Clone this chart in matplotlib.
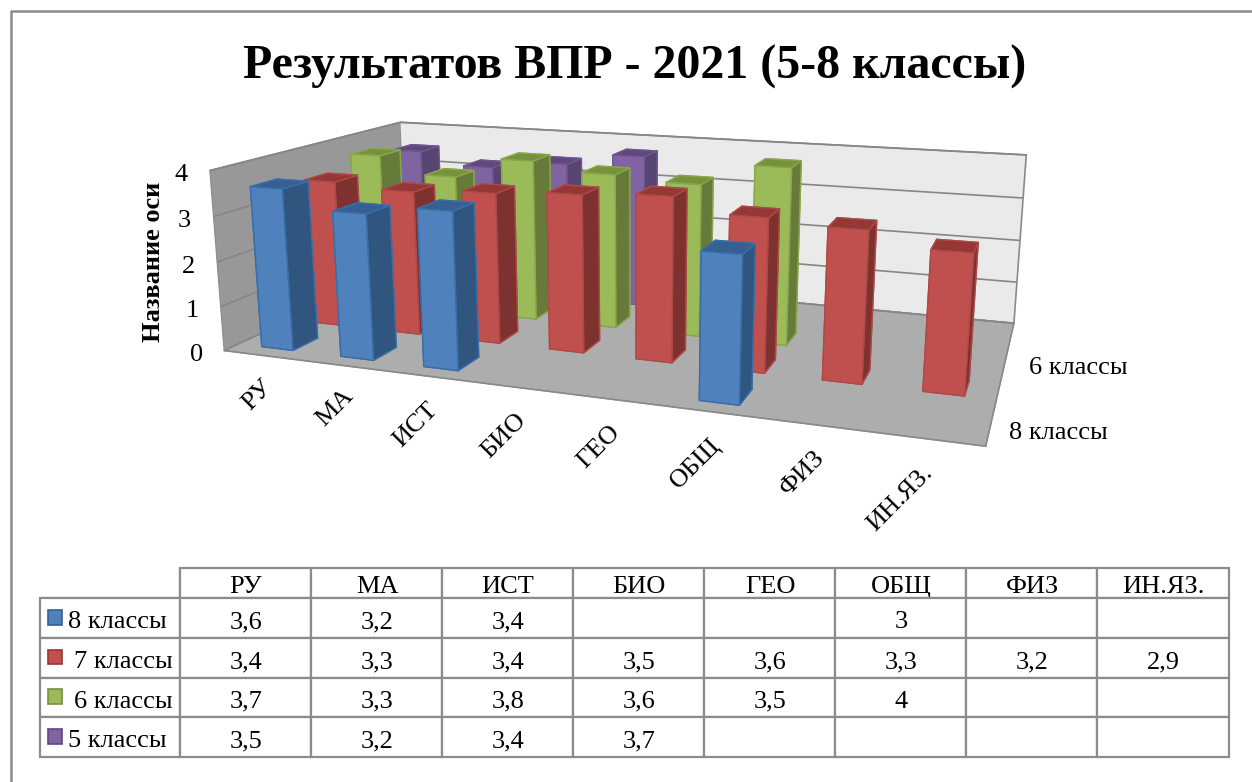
import numpy as np, matplotlib
matplotlib.use('Agg')
import matplotlib.pyplot as plt
from matplotlib.patches import Rectangle
from matplotlib.lines import Line2D
from matplotlib.transforms import Affine2D

plt.rcParams['font.family'] = ['Liberation Serif', 'DejaVu Serif']

W, H = 1252, 782
subjects = ['РУ', 'МА', 'ИСТ', 'БИО', 'ГЕО', 'ОБЩ', 'ФИЗ', 'ИН.ЯЗ.']
series_names = ['8 классы', '7 классы', '6 классы', '5 классы']
grade8 = [3.6, 3.2, 3.4, None, None, 3.0, None, None]
grade7 = [3.4, 3.3, 3.4, 3.5, 3.6, 3.3, 3.2, 2.9]
grade6 = [3.7, 3.3, 3.8, 3.6, 3.5, 4.0, None, None]
grade5 = [3.5, 3.2, 3.4, 3.7, None, None, None, None]
all_series = [grade8, grade7, grade6, grade5]

fig = plt.figure(figsize=(W/100, H/100), dpi=100, facecolor='white')
ax = fig.add_axes([0, 0, 1, 1], projection='3d', computed_zorder=False)
ax.set_xlim(0, 8, view_margin=0)
ax.set_ylim(0, 4, view_margin=0)
ax.set_zlim(0, 4, view_margin=0)
ax.view_init(elev=13.5568, azim=-70.2673)
ax.set_proj_type('persp', focal_length=0.2923)
ax.set_box_aspect((4.044, 1.9989, 1))
s, tx, ty = 4338.58, 632.76, 531.11
vl = ax.viewLim
ax.set_position([(s*vl.x0+tx)/W, (s*vl.y0+ty)/H, s*vl.width/W, s*vl.height/H])
ax.patch.set_alpha(0)

faces = ['#4F81BD', '#C0504D', '#9BBB59', '#8064A2']
sides = ['#30557F', '#7D3230', '#667B3A', '#574470']
tops = ['#376092', '#953735', '#76923C', '#5F497A']
edges = ['#3A6DA8', '#AD4A47', '#88A64C', '#70568F']
bw, bd = 0.40, 0.48
order = sorted(((r, c) for r in range(4) for c in range(8)), key=lambda t: (-t[0], t[1]))
for z, (r, c) in enumerate(order):
    v = all_series[r][c]
    if v is None:
        continue
    cols = [sides[r], tops[r], faces[r], sides[r], sides[r], sides[r]]
    ax.bar3d(c+.5-bw/2, r+.5-bd/2, 0, bw, bd, v, color=cols, shade=False,
             edgecolor=edges[r], linewidth=1, zorder=z+5)

ax.xaxis.pane.set_facecolor('#989898')
ax.yaxis.pane.set_facecolor('#EAEAEA')
ax.zaxis.pane.set_facecolor('#ADADAD')
for a_ in (ax.xaxis, ax.yaxis, ax.zaxis):
    a_.pane.set_alpha(1)
    a_.pane.set_edgecolor('#8A8A8A')
    a_.pane.set_linewidth(1.2)
    a_.line.set_color('#8A8A8A')
    a_._axinfo['tick']['inward_factor'] = 0
    a_._axinfo['tick']['outward_factor'] = 0
ax.xaxis._axinfo['grid'].update(color=(0, 0, 0, 0))
ax.yaxis._axinfo['grid'].update(color=(0, 0, 0, 0))
ax.zaxis._axinfo['grid'].update(color='#868686', linewidth=1.2)
ax.set_xticks(np.arange(8)+.5, subjects, rotation=45, ha='right', va='center',
              rotation_mode='anchor', fontsize=19)
ax.set_yticks([.5, 2.5], [series_names[0], series_names[2]], ha='left', va='bottom', fontsize=19)
ax.set_zticks(range(5), [str(i) for i in range(5)], va='center', fontsize=19)
ax.zaxis.set_ticks_position('lower')

def shift_labels(axis, shifts):
    # Axis3D resets the label transform in get_major_ticks, so add the pixel nudge there
    original = axis.get_major_ticks
    def wrapped(numticks=None):
        ticks = original(numticks)
        for t, d in zip(ticks, shifts):
            t.label1.set_transform(ax.transData + Affine2D().translate(*d))
        return ticks
    axis.get_major_ticks = wrapped

shift_labels(ax.xaxis, [(14, -17), (14, -16), (12, -18), (11, -17), (10, -17), (10, -17), (8, -15), (4, -16)])
shift_labels(ax.yaxis, [(-15, -5), (-6, -7)])
shift_labels(ax.zaxis, [(4.5, -3.5)] * 5)

fig.text(635/W, 1-67/H, 'Результатов ВПР - 2021 (5-8 классы)', fontsize=34.5, fontweight='bold', ha='center', va='center')
fig.text(153.5/W, 1-262/H, 'Название оси', fontsize=19, fontweight='bold', rotation=90, ha='center', va='center')

ov = fig.add_axes([0, 0, 1, 1], zorder=10)
ov.set_xlim(0, W); ov.set_ylim(H, 0); ov.axis('off'); ov.patch.set_alpha(0)
ov.add_line(Line2D([10.5, 10.5, W], [H, 11, 11], color='#8C8C8C', lw=1.8))
colx = [40, 180, 311, 442, 573, 704, 835, 966, 1097, 1229]
rowy = [568, 598, 638, 678, 717, 757]
cell_text = [[''] + subjects]
for n, ser in zip(series_names, all_series):
    cell_text.append([n] + ['' if v is None else f'{v:g}'.replace('.', ',') for v in ser])
tw = colx[-1]-colx[0]; th = rowy[-1]-rowy[0]
tb = ov.table(cellText=cell_text, colWidths=[(colx[i+1]-colx[i])/tw for i in range(9)], cellLoc='center',
              bbox=[colx[0]/W, 1-rowy[-1]/H, tw/W, th/H])
tb.auto_set_font_size(False); tb.set_fontsize(19)
pads = {1: .195, 2: .238, 3: .238, 4: .195}
for (r, c), cell in tb.get_celld().items():
    cell.set_edgecolor('#8C8C8C'); cell.set_linewidth(1.6)
    cell.set_height((rowy[r+1]-rowy[r])/th)
    cell.get_text().set_transform(Affine2D().translate(0.5, -4))
    if c == 0 and r > 0:
        cell.PAD = pads[r]; cell.get_text().set_ha('left')
    if r == 0 and c == 0:
        cell.visible_edges = 'BR'
for i in range(4):
    ov.add_patch(Rectangle((48, 610+i*39.7), 14, 14.5, fc=faces[i], ec=tops[i], lw=1.2))
fig.savefig('out.png', dpi=100)
